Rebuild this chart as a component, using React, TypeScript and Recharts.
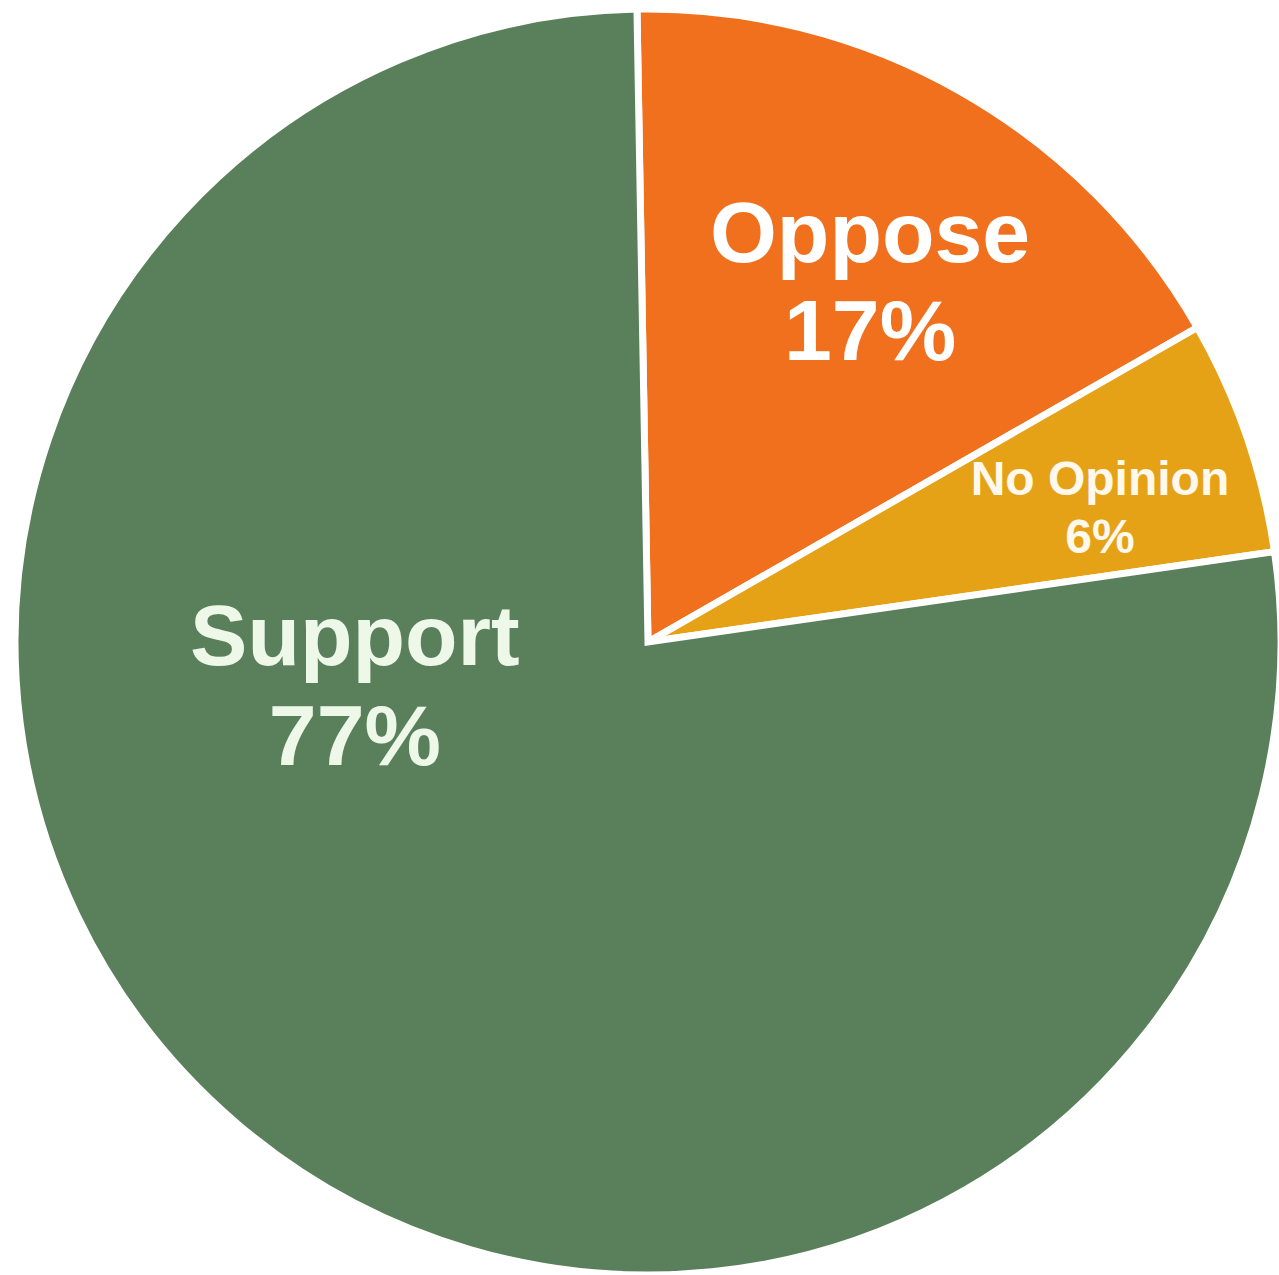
import { PieChart, Pie, Cell } from "recharts";

const categories = ["Oppose", "No Opinion", "Support"];
const shares = [17, 6, 77];
const sliceColors = ["#F0701E", "#E6A217", "#5A7F5B"];

const data = categories.map((name, i) => ({ name, value: shares[i] }));

// where each label sits, as (fraction of radius, angle in degrees)
const labelSpots: Record<string, { r: number; a: number; size: number; gap: number; color: string }> = {
  Oppose: { r: 0.6695, a: 58.4, size: 86, gap: 98, color: "#FFFFFF" },
  "No Opinion": { r: 0.745, a: 16.6, size: 48, gap: 58, color: "#FFF8EC" },
  Support: { r: 0.468, a: 188.35, size: 86, gap: 100, color: "#EEF8E8" },
};

const renderLabel = (props: any) => {
  const { cx, cy, outerRadius, name, value } = props;
  const spot = labelSpots[name];
  const rad = (spot.a * Math.PI) / 180;
  const x = cx + outerRadius * spot.r * Math.cos(rad);
  const y = cy - outerRadius * spot.r * Math.sin(rad);
  return (
    <text
      x={x}
      y={y}
      fill={spot.color}
      textAnchor="middle"
      fontFamily="'Liberation Sans', Arial, sans-serif"
      fontWeight="bold"
      fontSize={spot.size}
    >
      <tspan x={x} dy={-spot.gap / 2 + spot.size * 0.35}>
        {name}
      </tspan>
      <tspan x={x} dy={spot.gap}>
        {value}%
      </tspan>
    </text>
  );
};

export default function App() {
  return (
    <div style={{ position: "absolute", left: 0, top: 0, background: "#fff" }}>
      <PieChart width={1279} height={1275} margin={{ top: 0, right: 0, bottom: 0, left: 0 }}>
        <Pie
          data={data}
          dataKey="value"
          nameKey="name"
          cx={648}
          cy={642}
          outerRadius={633}
          startAngle={91}
          endAngle={-269}
          stroke="#FFFFFF"
          strokeWidth={7}
          label={renderLabel}
          labelLine={false}
          isAnimationActive={false}
        >
          {data.map((d, i) => (
            <Cell key={d.name} fill={sliceColors[i]} />
          ))}
        </Pie>
      </PieChart>
    </div>
  );
}
